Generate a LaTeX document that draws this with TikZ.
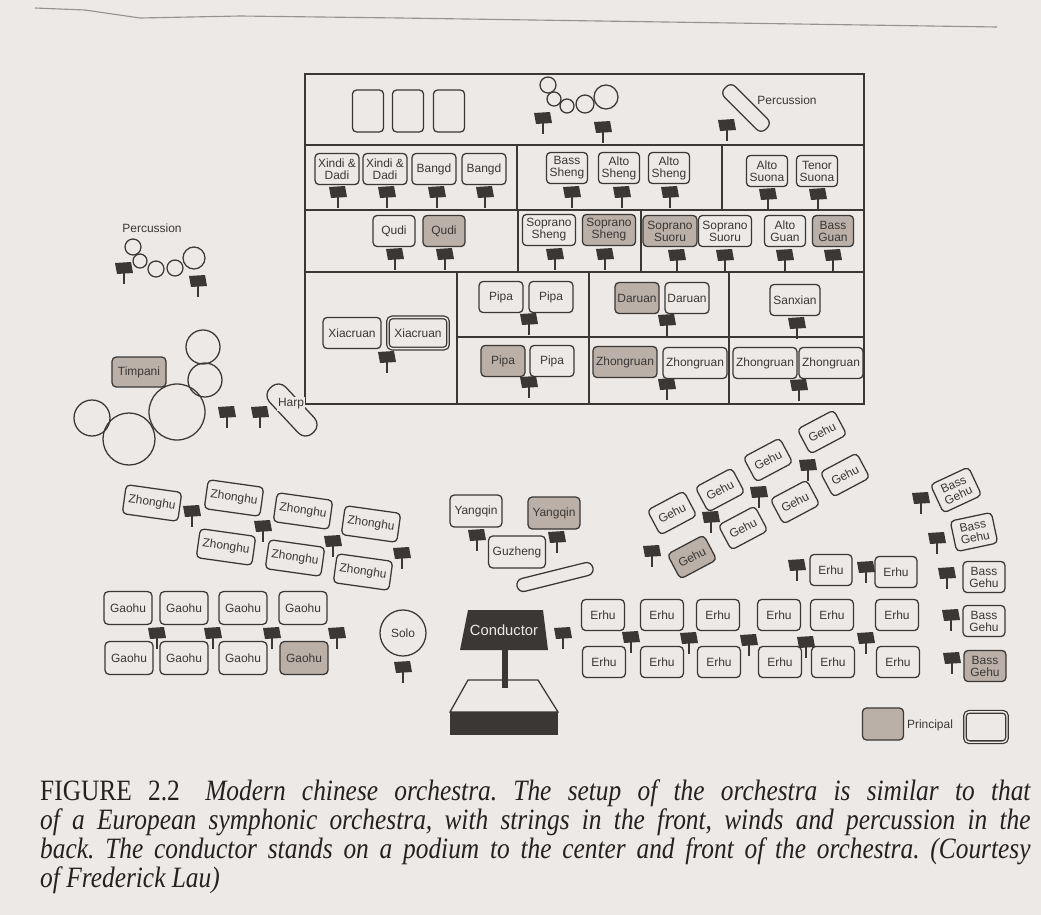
\documentclass[tikz,border=0pt]{standalone}
\usepackage{fontspec}
\setmainfont{Liberation Serif}
\newfontfamily\labelfont{Liberation Sans}
\usepackage{xcolor}
\usepackage{tikz}
\usetikzlibrary{positioning,calc}
\frenchspacing

\definecolor{page}{RGB}{236,233,230}
\definecolor{ink}{RGB}{58,55,53}
\definecolor{capink}{RGB}{35,33,33}
\definecolor{princ}{RGB}{186,176,168}
\definecolor{rule}{RGB}{150,146,144}

\tikzset{
  inst/.style={draw=ink, line width=0.9pt, rounded corners=3pt, minimum width=1.1cm,
    minimum height=0.78cm, inner sep=1pt, align=center, text=ink,
    font=\labelfont\fontsize{8.5}{8.5}\selectfont},
  principal/.style={inst, fill=princ},
  lbl/.style={text=ink, inner sep=1pt, font=\labelfont\fontsize{8.5}{8.5}\selectfont},
  capsule/.style={draw=ink, line width=0.9pt, rounded corners=0.16cm, inner sep=0pt},
  drum/.style={draw=ink, line width=0.9pt},
  wall/.style={draw=ink, line width=0.85pt},
  musicstand/.pic={
    \fill[ink] (-9,0) -- (7,-1) -- (9,10) -- (-7,11) -- cycle;
    \draw[ink, line width=1.6pt] (0,10) -- (0,21);
  }
}

\begin{document}
\begin{tikzpicture}[x=0.025cm, y=-0.025cm]
    \fill[page] (0,0) rectangle (1041,915);
    \useasboundingbox (0,0) rectangle (1041,915);
    \draw[rule, line width=0.8pt] (35,8) -- (85,10) -- (140,18) -- (240,16) -- (400,18) -- (997,27);

    % Stage
    \draw[wall] (305,74) rectangle (864,404);
    \draw[wall] (305,145) -- (864,145);
    \draw[wall] (305,210) -- (864,210);
    \draw[wall] (305,272) -- (864,272);
    \draw[wall] (457,337) -- (864,337);
    \draw[wall] (517,145) -- (517,210);
    \draw[wall] (722,145) -- (722,210);
    \draw[wall] (518,210) -- (518,272);
    \draw[wall] (641,210) -- (641,272);
    \draw[wall] (457,272) -- (457,404);
    \draw[wall] (589,272) -- (589,404);
    \draw[wall] (729,272) -- (729,404);

    % Back percussion
    \node[inst, minimum width=0.78cm, minimum height=1.05cm] (blk1) at (368,111) {};
    \node[inst, minimum width=0.78cm, minimum height=1.05cm] (blk2) at (408,111) {};
    \node[inst, minimum width=0.78cm, minimum height=1.05cm] (blk3) at (449,111) {};
    \draw[drum] (548,85) circle[radius=8];
    \draw[drum] (554,99) circle[radius=7];
    \draw[drum] (567,106) circle[radius=7];
    \draw[drum] (585,104) circle[radius=9];
    \draw[drum] (606,97) circle[radius=12];
    \pic at (543,113) {musicstand};
    \pic at (603,122) {musicstand};
    \node[capsule, minimum width=1.45cm, minimum height=0.38cm, rotate=-45] (cymbal) at (746,108) {};
    \node[lbl] (perctop) at (787,100) {Percussion};
    \pic at (727,120) {musicstand};

    % Winds
    \node[inst] (xindi1) at (337,169) {Xindi \&\\Dadi};
    \node[inst] (xindi2) at (385,169) {Xindi \&\\Dadi};
    \node[inst] (bangd1) at (434,169) {Bangd};
    \node[inst] (bangd2) at (484,169) {Bangd};
    \foreach \x in {338,387,437,485} \pic at (\x,187) {musicstand};
    \node[inst, minimum width=1.03cm] (bsheng) at (567,168) {Bass\\Sheng};
    \node[inst, minimum width=1.03cm] (asheng1) at (619,168) {Alto\\Sheng};
    \node[inst, minimum width=1.03cm] (asheng2) at (669,168) {Alto\\Sheng};
    \foreach \x in {572,622,670} \pic at (\x,187) {musicstand};
    \node[inst, minimum width=1.03cm] (asuona) at (767,171) {Alto\\Suona};
    \node[inst, minimum width=1.03cm] (tsuona) at (817,171) {Tenor\\Suona};
    \foreach \x in {768,818} \pic at (\x,189) {musicstand};

    \node[inst, minimum width=1.05cm] (qudi1) at (394,231) {Qudi};
    \node[principal, minimum width=1.05cm] (qudi2) at (444,231) {Qudi};
    \foreach \x in {395,445} \pic at (\x,249) {musicstand};
    \node[inst, minimum width=1.33cm] (ssheng1) at (549,230) {Soprano\\Sheng};
    \node[principal, minimum width=1.33cm] (ssheng2) at (609,230) {Soprano\\Sheng};
    \foreach \x in {555,605} \pic at (\x,249) {musicstand};
    \node[principal, minimum width=1.35cm] (ssuoru1) at (670,231) {Soprano\\Suoru};
    \node[inst, minimum width=1.33cm] (ssuoru2) at (725,231) {Soprano\\Suoru};
    \node[inst, minimum width=1.03cm] (aguan) at (785,231) {Alto\\Guan};
    \node[principal, minimum width=1.03cm] (bguan) at (833,231) {Bass\\Guan};
    \foreach \x in {677,725,785,833} \pic at (\x,250) {musicstand};

    % Plucked strings
    \node[inst] (pipa1) at (501,297) {Pipa};
    \node[inst] (pipa2) at (551,297) {Pipa};
    \pic at (529,314) {musicstand};
    \node[principal] (daruan1) at (637,298) {Daruan};
    \node[inst] (daruan2) at (687,298) {Daruan};
    \pic at (667,315) {musicstand};
    \node[inst, minimum width=1.25cm] (sanxian) at (795,300) {Sanxian};
    \pic at (797,318) {musicstand};
    \node[principal] (pipa3) at (503,361) {Pipa};
    \node[inst] (pipa4) at (552,361) {Pipa};
    \pic at (529,377) {musicstand};
    \node[principal, minimum width=1.6cm] (zruan1) at (625,362) {Zhongruan};
    \node[inst, minimum width=1.6cm] (zruan2) at (695,363) {Zhongruan};
    \pic at (667,379) {musicstand};
    \node[inst, minimum width=1.6cm] (zruan3) at (765,363) {Zhongruan};
    \node[inst, minimum width=1.6cm] (zruan4) at (831,363) {Zhongruan};
    \pic at (799,380) {musicstand};
    \node[inst, minimum width=1.45cm] (xiac1) at (352,333) {Xiacruan};
    \node[inst, minimum width=1.5cm, double=page, double distance=1pt] (xiac2) at (418,333) {Xiacruan};
    \pic at (387,352) {musicstand};

    % Side percussion
    \node[lbl] (percleft) at (152,228) {Percussion};
    \draw[drum] (133,247) circle[radius=8];
    \draw[drum] (140,261) circle[radius=7];
    \draw[drum] (156,269) circle[radius=8];
    \draw[drum] (175,268) circle[radius=8];
    \draw[drum] (194,258) circle[radius=11];
    \pic at (124,263) {musicstand};
    \pic at (198,276) {musicstand};

    \node[principal, minimum width=1.35cm, minimum height=0.75cm] (timpani) at (139,372) {Timpani};
    \draw[drum] (203,347) circle[radius=17];
    \draw[drum] (205,380) circle[radius=17];
    \draw[drum] (177,412) circle[radius=28];
    \draw[drum] (92,418) circle[radius=18];
    \draw[drum] (129,439) circle[radius=26];
    \pic at (227,407) {musicstand};
    \pic at (260,407) {musicstand};
    \node[capsule, minimum width=1.55cm, minimum height=0.55cm, rounded corners=0.25cm, rotate=-47] (harp) at (292,410) {};
    \node[lbl, fill=page] (harplbl) at (291,404) {Harp};

    % Zhonghu
    \foreach \n/\x/\y in {1/152/503, 2/234/498, 3/303/511, 4/371/524, 5/226/547, 6/295/558, 7/363/572}
      \node[inst, minimum width=1.4cm, minimum height=0.73cm, rotate=-8] (zhonghu\n) at (\x,\y) {Zhonghu};
    \pic at (192,506) {musicstand};
    \pic at (263,521) {musicstand};
    \pic at (333,536) {musicstand};
    \pic at (402,548) {musicstand};

    % Gaohu
    \foreach \n/\x in {1/128, 2/184, 3/243, 4/303}
      \node[inst, minimum width=1.2cm, minimum height=0.82cm] (gaohu\n) at (\x,608) {Gaohu};
    \foreach \n/\x in {5/129, 6/184, 7/243}
      \node[inst, minimum width=1.2cm, minimum height=0.82cm] (gaohu\n) at (\x,658) {Gaohu};
    \node[principal, minimum width=1.2cm, minimum height=0.82cm] (gaohu8) at (304,658) {Gaohu};
    \foreach \x in {157,213,272,337} \pic at (\x,628) {musicstand};
    \node[inst, circle, minimum size=1.15cm] (solo) at (403,633) {Solo};
    \pic at (403,662) {musicstand};

    % Yangqin and Guzheng
    \node[inst, minimum width=1.3cm, minimum height=0.8cm] (yangqin1) at (476,511) {Yangqin};
    \node[principal, minimum width=1.3cm, minimum height=0.8cm] (yangqin2) at (554,513) {Yangqin};
    \node[inst, minimum width=1.42cm, minimum height=0.8cm] (guzheng) at (517,552) {Guzheng};
    \pic at (477,530) {musicstand};
    \pic at (557,532) {musicstand};
    \node[capsule, minimum width=1.95cm, minimum height=0.33cm, rotate=14] (zheng) at (555,577) {};

    % Conductor
    \fill[ink] (468,610) -- (543,610) -- (548,650) -- (460,650) -- cycle;
    \node[text=page, font=\labelfont\fontsize{10.5}{10.5}\selectfont] (conductor) at (504,630) {Conductor};
    \fill[ink] (502,650) rectangle (508,688);
    \draw[ink, line width=0.9pt] (468,680) -- (538,680) -- (558,712) -- (450,712) -- cycle;
    \fill[ink] (450,712) rectangle (558,735);
    \pic at (563,628) {musicstand};

    % Gehu
    \foreach \n/\x/\y in {1/672/513, 2/720/490, 3/768/460, 4/822/432, 5/845/475, 6/795/502, 7/743/528}
      \node[inst, minimum width=1.03cm, minimum height=0.7cm, rotate=28] (gehu\n) at (\x,\y) {Gehu};
    \node[principal, minimum width=1.03cm, minimum height=0.7cm, rotate=28] (gehu8) at (692,557) {Gehu};
    \pic at (652,546) {musicstand};
    \pic at (711,512) {musicstand};
    \pic at (759,487) {musicstand};
    \pic at (808,460) {musicstand};

    % Bass Gehu
    \node[inst, minimum width=1.05cm, rotate=25] (bgehu1) at (956,490) {Bass\\Gehu};
    \node[inst, minimum width=1.05cm, rotate=12] (bgehu2) at (974,532) {Bass\\Gehu};
    \node[inst, minimum width=1.05cm] (bgehu3) at (984,577) {Bass\\Gehu};
    \node[inst, minimum width=1.05cm] (bgehu4) at (984,621) {Bass\\Gehu};
    \node[principal, minimum width=1.05cm] (bgehu5) at (985,666) {Bass\\Gehu};
    \pic at (921,493) {musicstand};
    \pic at (937,533) {musicstand};
    \pic at (947,568) {musicstand};
    \pic at (951,610) {musicstand};
    \pic at (952,653) {musicstand};

    % Erhu
    \node[inst, minimum width=1.05cm] (erhu1) at (831,570) {Erhu};
    \node[inst, minimum width=1.05cm] (erhu2) at (896,572) {Erhu};
    \pic at (797,560) {musicstand};
    \pic at (866,562) {musicstand};
    \foreach \n/\x in {3/603, 4/662, 5/718, 6/779, 7/832, 8/897}
      \node[inst, minimum width=1.07cm] (erhu\n) at (\x,615) {Erhu};
    \foreach \n/\x in {9/604, 10/662, 11/719, 12/780, 13/833, 14/898}
      \node[inst, minimum width=1.07cm] (erhu\n) at (\x,662) {Erhu};
    \pic at (631,632) {musicstand};
    \pic at (689,633) {musicstand};
    \pic at (749,635) {musicstand};
    \pic at (806,637) {musicstand};
    \pic at (866,633) {musicstand};

    % Legend
    \node[principal, minimum width=1.03cm, minimum height=0.8cm] (keyprinc) at (883,724) {};
    \node[lbl] (keylbl) at (930,725) {Principal};
    \node[inst, minimum width=1.05cm, minimum height=0.76cm, double=page, double distance=1pt] (keyplain) at (986,727) {};

    % Caption
    \node[anchor=north west, text width=28.78cm, align=justify, xscale=0.86, inner sep=0pt,
      text=capink, font=\fontsize{21}{20.8}\selectfont] (caption) at (40,779)
      {FIGURE 2.2\hspace{1em}\textit{Modern chinese orchestra. The setup of the orchestra is similar to that\linebreak
       of a European symphonic orchestra, with strings in the front, winds and percussion in the\linebreak
       back. The conductor stands on a podium to the center and front of the orchestra. (Courtesy\linebreak
       of Frederick Lau)}};
\end{tikzpicture}
\end{document}
